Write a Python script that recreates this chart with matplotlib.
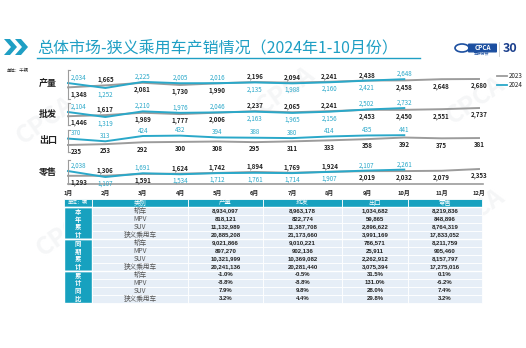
import matplotlib.pyplot as plt
from matplotlib.patches import Rectangle, Polygon, FancyBboxPatch, Ellipse

plt.rcParams['font.family'] = ['Noto Sans CJK SC', 'DejaVu Sans']

W, H = 526, 348
TEAL = '#1f9fc4'
LINE24 = '#2aa8c9'
GRAY = '#9c9c9c'
DARK = '#222222'

months = ['1月', '2月', '3月', '4月', '5月', '6月', '7月', '8月', '9月', '10月', '11月', '12月']

prod_2023 = [1348, 1665, 2081, 1730, 1990, 2196, 2094, 2241, 2438, 2458, 2648, 2680]
prod_2024 = [2034, 1252, 2225, 2005, 2016, 2135, 1988, 2160, 2421, 2648]
whole_2023 = [1446, 1617, 1989, 1777, 2006, 2237, 2065, 2241, 2453, 2450, 2551, 2737]
whole_2024 = [2104, 1319, 2210, 1976, 2046, 2163, 1965, 2156, 2502, 2732]
export_2023 = [235, 253, 292, 300, 308, 295, 311, 333, 358, 392, 375, 381]
export_2024 = [370, 313, 424, 432, 394, 388, 380, 414, 435, 441]
retail_2023 = [1293, 1306, 1591, 1624, 1742, 1894, 1769, 1924, 2019, 2032, 2079, 2353]
retail_2024 = [2038, 1107, 1691, 1534, 1712, 1761, 1714, 1907, 2107, 2261]

row_names = ['产量', '批发', '出口', '零售']

# table data
tbl_header = ['单位：辆', '类别', '产量', '批发', '出口', '零售']
groups = ['本年累计', '同期累计', '累计同比']
kinds = ['轿车', 'MPV', 'SUV', '狭义乘用车']
cum_2024 = [['8,934,097', '8,963,178', '1,034,682', '8,219,836'],
            ['818,121', '822,774', '59,865', '848,896'],
            ['11,132,989', '11,387,708', '2,896,622', '8,764,319'],
            ['20,885,208', '21,173,660', '3,991,169', '17,833,052']]
cum_2023 = [['9,021,866', '9,010,221', '786,571', '8,211,759'],
            ['897,270', '902,136', '25,911', '905,460'],
            ['10,321,999', '10,369,082', '2,262,912', '8,157,797'],
            ['20,241,136', '20,281,440', '3,075,394', '17,275,016']]
cum_yoy = [['-1.0%', '-0.5%', '31.5%', '0.1%'],
           ['-8.8%', '-8.8%', '131.0%', '-6.2%'],
           ['7.9%', '9.8%', '28.0%', '7.4%'],
           ['3.2%', '4.4%', '29.8%', '3.2%']]


def box(left, top, right, bottom):
    return [left / W, 1 - bottom / H, (right - left) / W, (bottom - top) / H]


fig = plt.figure(figsize=(W / 100, H / 100), dpi=100)
bg = fig.add_axes([0, 0, 1, 1])
bg.set_xlim(0, W)
bg.set_ylim(H, 0)
bg.axis('off')

# faint watermarks
for wx, wy in [(45, 120), (285, 90), (475, 100), (65, 232), (475, 212)]:
    bg.text(wx, wy, 'CPCA', fontsize=18, color='#f5f6f7', rotation=35, ha='center', va='center',
            weight='bold', style='italic', zorder=0)

# title
for dx in (0, 11):
    bg.add_patch(Polygon([(4 + dx, 39), (10 + dx, 39), (17 + dx, 47), (10 + dx, 55), (4 + dx, 55), (11 + dx, 47)],
                         closed=True, color=TEAL, lw=0))
bg.text(37, 48.5, '总体市场-狭义乘用车产销情况（2024年1-10月份）', fontsize=11.5, color=TEAL,
        ha='left', va='center')
bg.plot([37, 420], [57.5, 57.5], color=TEAL, lw=1)

# logo
bg.add_patch(Ellipse((462, 48), 14, 8, fill=False, ec='#1c4fa0', lw=1.2))
bg.add_patch(FancyBboxPatch((469, 44.5), 27, 7, boxstyle='round,pad=0.3', color='#1c4fa0'))
bg.text(482.5, 48, 'CPCA', fontsize=4.5, color='white', ha='center', va='center', weight='bold', style='italic')
bg.text(482, 55, '乘联分会', fontsize=2.8, color='#1c4fa0', ha='center', va='center')
bg.plot([499, 499], [42, 56], color='#cccccc', lw=0.6)
bg.text(510, 48.5, '30', fontsize=9, color='#1a3e8c', ha='center', va='center', weight='bold')

bg.text(7, 71, '单位：千辆', fontsize=3.2, color=DARK, ha='left', va='center')

# legend
bg.plot([497, 507], [76, 76], color=GRAY, lw=1.3)
bg.text(509, 76, '2023', fontsize=4.5, color=DARK, ha='left', va='center')
bg.plot([497, 507], [85, 85], color=LINE24, lw=1.3)
bg.text(509, 85, '2024', fontsize=4.5, color=DARK, ha='left', va='center')

# line rows
series = [(prod_2023, prod_2024, (70, 99), (-500, 4110)),
          (whole_2023, whole_2024, (103, 125), (55, 3530)),
          (export_2023, export_2024, (130, 152), (88, 550)),
          (retail_2023, retail_2024, (160, 184), (15, 3760))]

x_right = 11 * (483 - 68) / (479 - 68)
for k, (s23, s24, (top, bottom), ylim) in enumerate(series):
    ax = fig.add_axes(box(68, top, 483, bottom))
    ax.set_facecolor('none')
    ax.set_xlim(0, x_right)
    ax.set_ylim(*ylim)
    for sp in ('top', 'right', 'bottom'):
        ax.spines[sp].set_visible(False)
    ax.spines['left'].set_color(GRAY)
    ax.spines['left'].set_linewidth(0.8)
    ax.plot([0, 0.004], [1, 1], transform=ax.transAxes, color=GRAY, lw=0.8, clip_on=False)
    ax.plot([0, 0.004], [0, 0], transform=ax.transAxes, color=GRAY, lw=0.8, clip_on=False)
    ax.set_yticks([])
    ax.plot(range(len(s23)), s23, color=GRAY, lw=1.4, clip_on=False)
    ax.plot(range(len(s24)), s24, color=LINE24, lw=1.4, clip_on=False)

    for i in range(12):
        v23 = s23[i]
        v24 = s24[i] if i < len(s24) else None
        if v24 is None:
            items = [(v23, DARK, False)]
        elif v24 >= v23:
            items = [(v24, LINE24, True), (v23, DARK, False)]
        else:
            items = [(v23, DARK, True), (v24, LINE24, False)]
        for v, c, up in items:
            dy = 3.9 if up else -4.9
            dx = 2 if i == 0 else 0
            ax.annotate(f'{v:,}', (i, v), xytext=(dx, dy), textcoords='offset points',
                        ha='left' if i == 0 else 'center', va='center',
                        fontsize=4.5, color=c, weight='bold' if c == DARK else 'medium',
                        annotation_clip=False)

    bg.text(48, (top + bottom) / 2, row_names[k], fontsize=6.5, color=DARK, weight='bold',
            ha='center', va='center')

    if k == 3:
        ax.spines['bottom'].set_visible(True)
        ax.spines['bottom'].set_color(GRAY)
        ax.spines['bottom'].set_linewidth(1.2)
        ax.set_xticks(range(12))
        ax.set_xticklabels(months, fontsize=4.2, weight='bold', color=DARK)
        ax.tick_params(axis='x', length=0, pad=4)
    else:
        ax.set_xticks([])

# table
col_edges = [64, 92, 188, 263, 342, 408, 482]
head_top, head_bot = 198.5, 206.5
row_top0, row_h = 207, 8
CELL = '#e6eef7'
HEAD = '#17a1bf'

for j in range(6):
    x0, x1 = col_edges[j], col_edges[j + 1]
    bg.add_patch(Rectangle((x0, head_top), x1 - x0, head_bot - head_top, fc=HEAD, ec='white', lw=0.6))
    bg.text((x0 + x1) / 2, (head_top + head_bot) / 2, tbl_header[j], fontsize=3.6 if j == 0 else 4.6,
            color='white', ha='center', va='center')

blocks = [cum_2024, cum_2023, cum_yoy]
for g in range(3):
    gtop = row_top0 + g * 4 * row_h
    bg.add_patch(Rectangle((col_edges[0], gtop), col_edges[1] - col_edges[0], 4 * row_h,
                           fc=HEAD, ec='white', lw=1))
    bg.text((col_edges[0] + col_edges[1]) / 2, gtop + 2 * row_h, '\n'.join(groups[g]), fontsize=4.6,
            color='white', weight='bold', ha='center', va='center', linespacing=1.15)
    for r in range(4):
        y0 = gtop + r * row_h
        yc = y0 + row_h / 2
        for j in range(1, 6):
            x0, x1 = col_edges[j], col_edges[j + 1]
            bg.add_patch(Rectangle((x0, y0), x1 - x0, row_h, fc=CELL, ec='white', lw=0.6))
        bg.text((col_edges[1] + col_edges[2]) / 2, yc, kinds[r], fontsize=4.8, color='#555555',
                ha='center', va='center')
        for j in range(4):
            bg.text((col_edges[j + 2] + col_edges[j + 3]) / 2, yc, blocks[g][r][j], fontsize=4.3,
                    color=DARK, weight='bold', ha='center', va='center', family='Liberation Sans')
    bg.plot([col_edges[0], col_edges[-1]], [gtop, gtop], color='white', lw=1)

fig.savefig('out.png', dpi=100)
